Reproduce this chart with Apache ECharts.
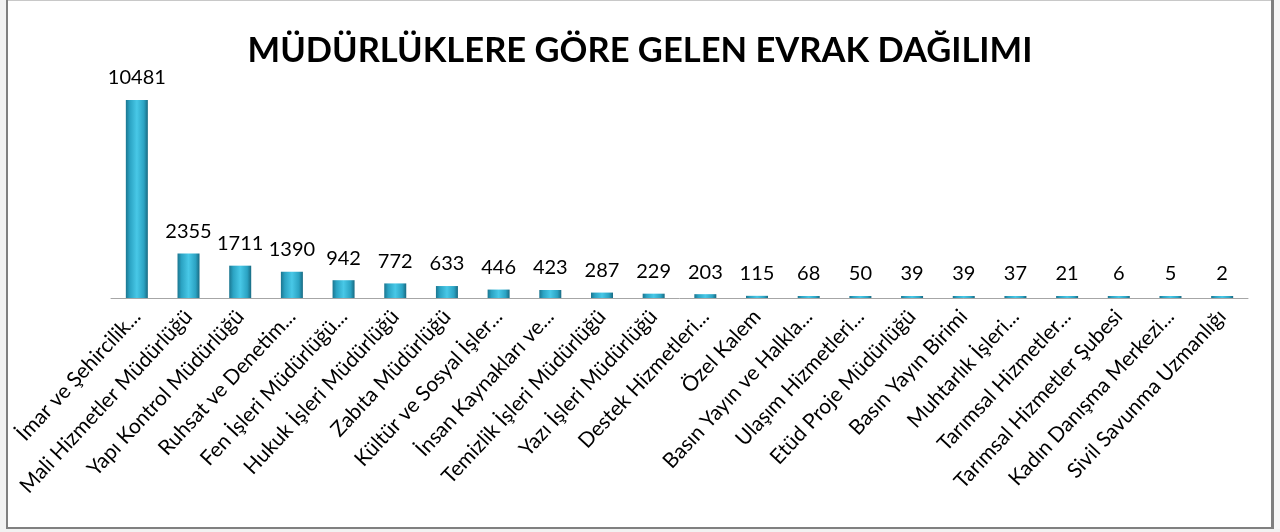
<!DOCTYPE html>
<html>
<head>
<meta charset="utf-8">
<script src="https://cdn.jsdelivr.net/npm/echarts@6/dist/echarts.min.js"></script>
<style>
  html, body { margin: 0; padding: 0; background: #fff; }
  #chart { width: 1280px; height: 532px; }
</style>
</head>
<body>
<div id="chart"></div>
<script>
// müdürlük adları (grafikte kısaltılmış hali)
const categories = [
  'İmar ve Şehircilik...',
  'Mali Hizmetler Müdürlüğü',
  'Yapı Kontrol Müdürlüğü',
  'Ruhsat ve Denetim...',
  'Fen İşleri Müdürlüğü...',
  'Hukuk İşleri Müdürlüğü',
  'Zabıta Müdürlüğü',
  'Kültür ve Sosyal İşler...',
  'İnsan Kaynakları ve...',
  'Temizlik İşleri Müdürlüğü',
  'Yazı İşleri Müdürlüğü',
  'Destek Hizmetleri...',
  'Özel Kalem',
  'Basın Yayın ve Halkla...',
  'Ulaşım Hizmetleri...',
  'Etüd Proje Müdürlüğü',
  'Basın Yayın Birimi',
  'Muhtarlık İşleri...',
  'Tarımsal Hizmetler...',
  'Tarımsal Hizmetler Şubesi',
  'Kadın Danışma Merkezi...',
  'Sivil Savunma Uzmanlığı'
]
// gelen evrak sayıları
const evrakSayisi = [10481, 2355, 1711, 1390, 942, 772, 633, 446, 423, 287, 229, 203, 115, 68, 50, 39, 39, 37, 21, 6, 5, 2]

const chartTitle = 'MÜDÜRLÜKLERE GÖRE GELEN EVRAK DAĞILIMI'

const chart = echarts.init(document.getElementById('chart'))

const barColor = new echarts.graphic.LinearGradient(0, 0, 1, 0, [
  { offset: 0, color: '#1b7690' },
  { offset: 0.18, color: '#2ba3c3' },
  { offset: 0.5, color: '#48c8e7' },
  { offset: 0.82, color: '#2ba3c3' },
  { offset: 1, color: '#186a82' }
])

const option = {
  backgroundColor: '#ffffff',
  animation: false,
  title: {
    text: chartTitle,
    left: 'center',
    top: 28,
    textStyle: {
      fontFamily: 'Lato',
      fontWeight: 'bold',
      fontSize: 34.5,
      color: '#000'
    }
  },
  // çerçeve
  graphic: [
    { type: 'rect', shape: { x: 0, y: 0, width: 6, height: 532 }, style: { fill: '#f2f2f2' }, silent: true },
    { type: 'rect', shape: { x: 1274, y: 0, width: 6, height: 532 }, style: { fill: '#f7f7f7' }, silent: true },
    { type: 'rect', shape: { x: 0, y: 529, width: 1280, height: 3 }, style: { fill: '#f2f2f2' }, silent: true },
    { type: 'rect', shape: { x: 6, y: 0, width: 2, height: 529 }, style: { fill: '#808080' }, silent: true },
    { type: 'rect', shape: { x: 1271, y: 0, width: 3, height: 529 }, style: { fill: '#808080' }, silent: true },
    { type: 'rect', shape: { x: 6, y: 527, width: 1268, height: 2 }, style: { fill: '#808080' }, silent: true },
    { type: 'rect', shape: { x: 8, y: 0, width: 1263, height: 1 }, style: { fill: '#c8c8c8' }, silent: true }
  ],
  grid: {
    left: 111,
    right: 32,
    top: 100,
    bottom: 234
  },
  xAxis: {
    type: 'category',
    data: categories,
    axisLine: { lineStyle: { color: '#a6a6a6', width: 1 } },
    axisTick: { show: false },
    axisLabel: {
      interval: 0,
      rotate: 47,
      margin: 15,
      fontFamily: 'Lato',
      fontSize: 21,
      color: '#000'
    }
  },
  yAxis: {
    type: 'value',
    min: 0,
    max: 'dataMax',
    show: false
  },
  series: [
    {
      type: 'bar',
      data: evrakSayisi,
      barWidth: 22,
      barMinHeight: 2,
      itemStyle: { color: barColor },
      label: {
        show: true,
        position: 'top',
        distance: 12,
        fontFamily: 'Lato',
        fontSize: 20,
        color: '#000'
      }
    }
  ]
}

chart.setOption(option)
</script>
</body>
</html>
